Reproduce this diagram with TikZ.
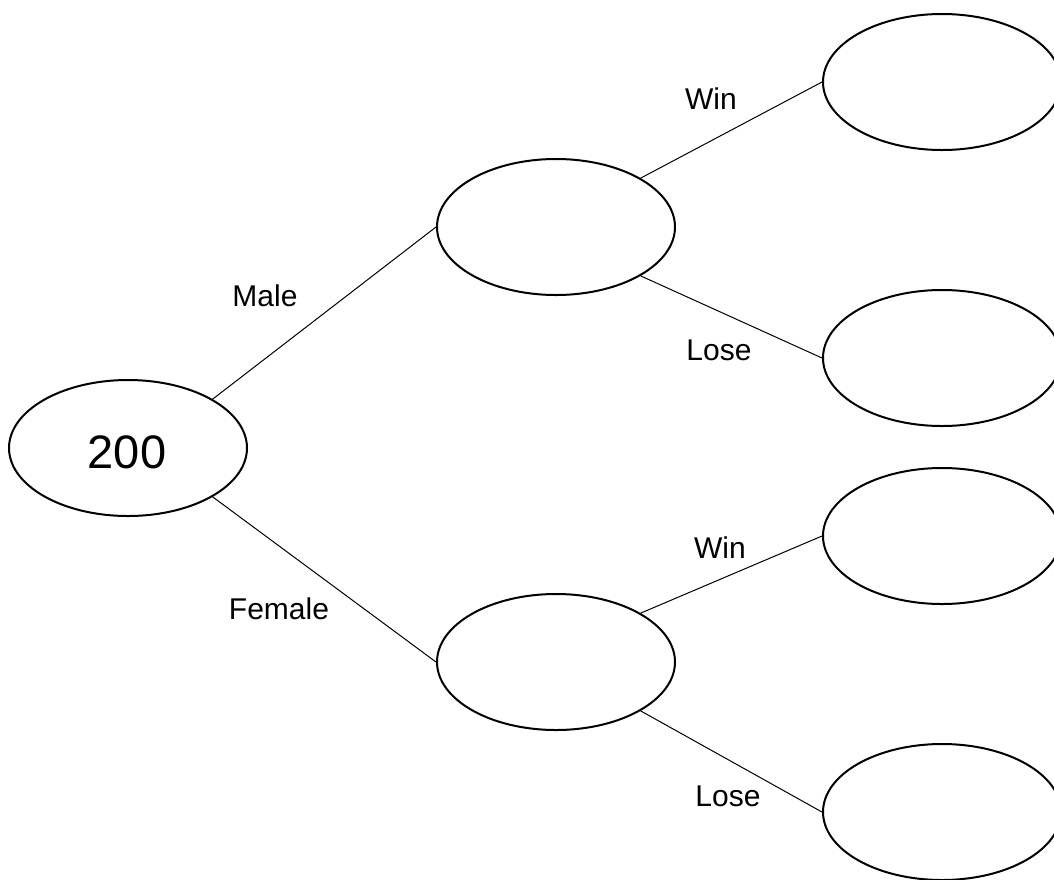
\documentclass[tikz,border=0pt]{standalone}
\usepackage{fontspec}
\setmainfont{Liberation Sans}
\usetikzlibrary{shapes.geometric}
\begin{document}
\begin{tikzpicture}[x=1pt,y=-1pt,
  oval/.style={draw=black,line width=2pt,ellipse,minimum width=238pt,minimum height=136pt,inner sep=0pt},
  branch/.style={draw=black,line width=1pt},
  lbl/.style={anchor=base,inner sep=0pt,font=\fontsize{30}{36}\selectfont}]
\useasboundingbox (0,0) rectangle (1054,879);
\clip (0,0) rectangle (1054,879);
\node[oval] (root) at (128,448) {};
\node[anchor=base,inner sep=0pt,font=\fontsize{47}{56}\selectfont] (rootlbl) at (127,468) {200};
\node[oval] (male) at (556,227) {};
\node[oval] (female) at (556,662) {};
\node[oval] (mw) at (942,82) {};
\node[oval] (ml) at (942,358) {};
\node[oval] (fw) at (942,536) {};
\node[oval] (fl) at (942,812) {};
\draw[branch] (root.30) -- (male.west);
\draw[branch] (root.-30) -- (female.west);
\draw[branch] (male.30) -- (mw.west);
\draw[branch] (male.-30) -- (ml.west);
\draw[branch] (female.30) -- (fw.west);
\draw[branch] (female.-30) -- (fl.west);
\node[lbl] (lmale) at (265,306) {Male};
\node[lbl] (lfemale) at (279,619) {Female};
\node[lbl] (lmw) at (711,109) {Win};
\node[lbl] (lml) at (719,360) {Lose};
\node[lbl] (lfw) at (720,558) {Win};
\node[lbl] (lfl) at (728,806) {Lose};
\end{tikzpicture}
\end{document}
